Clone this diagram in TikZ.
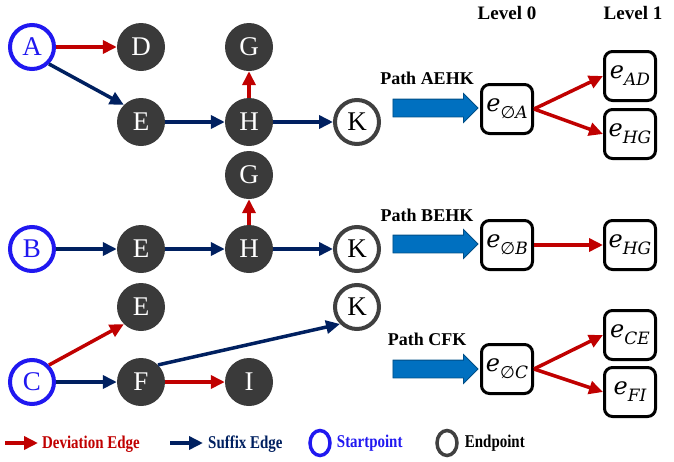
\documentclass[tikz,border=0pt]{standalone}
\usepackage{amsmath}
\usepackage{amssymb}
\usepackage[no-math]{fontspec}
\setmainfont{Liberation Serif}
\newfontfamily\boxfont{DejaVu Serif}
\newfontfamily\symfont{DejaVu Sans}
\usepackage{xcolor}
\usepackage{tikz}
\usetikzlibrary{arrows.meta,positioning,shapes.arrows,shapes.geometric}

\definecolor{devred}{RGB}{192,0,0}
\definecolor{sufnavy}{RGB}{0,32,96}
\definecolor{startblue}{RGB}{32,24,240}
\definecolor{nodegray}{RGB}{58,58,58}
\definecolor{endgray}{RGB}{64,64,64}
\definecolor{arrblue}{RGB}{0,112,192}

% edge label e with a subscript
\newcommand{\esub}[1]{{\itshape e}\raisebox{-7pt}{\fontsize{17}{17}\selectfont\itshape #1}}
\newcommand{\nil}{{\symfont\upshape ∅}}
\newcommand{\legtext}[1]{\scalebox{0.83}[1]{#1}}

\begin{document}
\begin{tikzpicture}[
  x=1pt, y=-1pt,
  vtx/.style={circle, fill=nodegray, text=white, minimum size=48pt, inner sep=0pt,
              font=\fontsize{27}{28}\selectfont},
  startv/.style={circle, draw=startblue, line width=4pt, text=startblue, fill=white,
                 minimum size=44pt, inner sep=0pt, font=\fontsize{27}{28}\selectfont},
  endv/.style={circle, draw=endgray, line width=4pt, text=black, fill=white,
               minimum size=44pt, inner sep=0pt, font=\fontsize{27}{28}\selectfont},
  ebox/.style={rectangle, draw=black, line width=3pt, rounded corners=8pt,
               minimum width=51pt, minimum height=49pt, inner sep=0pt,
               font=\boxfont\fontsize{24}{26}\selectfont},
  bigarrow/.style={single arrow, fill=arrblue, draw=arrblue!70!black, line width=0.8pt,
                   minimum height=85pt, inner xsep=0pt, inner ysep=8.5pt,
                   single arrow head extend=5.5pt},
  dev/.style={-{Triangle[length=14pt,width=13pt]}, line width=3.5pt, devred},
  suf/.style={-{Triangle[length=14pt,width=13pt]}, line width=3.5pt, sufnavy},
  lvl/.style={font=\fontsize{19}{20}\selectfont\bfseries},
  pathlbl/.style={font=\fontsize{18}{20}\selectfont\bfseries},
  leg/.style={font=\fontsize{18}{18}\selectfont\bfseries, anchor=west, inner sep=0pt},
  legmark/.style={ellipse, line width=3.5pt, minimum width=20pt, minimum height=25pt, inner sep=0pt}
]
  \useasboundingbox (0,0) rectangle (674,461);

  % path A
  \node[startv] (a)  at (32,47)   {A};
  \node[vtx]    (d)  at (141,47)  {D};
  \node[vtx]    (g1) at (249,47)  {G};
  \node[vtx]    (e1) at (141,122) {E};
  \node[vtx]    (h1) at (249,122) {H};
  \node[endv]   (k1) at (357,122) {K};

  % path B
  \node[vtx]    (g2) at (249,175) {G};
  \node[startv] (b)  at (32,249)  {B};
  \node[vtx]    (e2) at (141,249) {E};
  \node[vtx]    (h2) at (249,249) {H};
  \node[endv]   (k2) at (357,249) {K};

  % path C
  \node[vtx]    (e3) at (141,307) {E};
  \node[endv]   (k3) at (357,307) {K};
  \node[startv] (c)  at (32,382)  {C};
  \node[vtx]    (f)  at (141,382) {F};
  \node[vtx]    (i)  at (249,382) {I};

  \draw[dev] (a)     -- (d);
  \draw[suf] (a.-45) -- (e1.135);
  \draw[suf] (e1)    -- (h1);
  \draw[suf] (h1)    -- (k1);
  \draw[dev] (h1)    -- (g1);

  \draw[suf] (b)     -- (e2);
  \draw[suf] (e2)    -- (h2);
  \draw[suf] (h2)    -- (k2);
  \draw[dev] (h2)    -- (g2);

  \draw[dev] (c.45)  -- (e3.-135);
  \draw[suf] (c)     -- (f);
  \draw[dev] (f)     -- (i);
  \draw[suf] (f.45)  -- (k3.-135);

  % levels
  \node[lvl] (lv0) at (507,13) {Level 0};
  \node[lvl] (lv1) at (633,13) {Level 1};

  \node[bigarrow] (pa) at (431,108) {};
  \node[pathlbl] (la) at (427,78) {Path AEHK};
  \node[ebox] (ea0)  at (507,109) {\esub{\nil A}};
  \node[ebox] (ead)  at (630,76)  {\esub{AD}};
  \node[ebox] (ehg1) at (630,134) {\esub{HG}};
  \draw[dev] (ea0.east) -- (ead.west);
  \draw[dev] (ea0.east) -- (ehg1.west);

  \node[bigarrow] (pb) at (431,244) {};
  \node[pathlbl] (lb) at (427,215) {Path BEHK};
  \node[ebox] (eb0)  at (507,245) {\esub{\nil B}};
  \node[ebox] (ehg2) at (630,245) {\esub{HG}};
  \draw[dev] (eb0) -- (ehg2);

  \node[bigarrow] (pc) at (431,369) {};
  \node[pathlbl] (lc) at (427,339) {Path CFK};
  \node[ebox] (ec0) at (507,369) {\esub{\nil C}};
  \node[ebox] (ece) at (630,335) {\esub{CE}};
  \node[ebox] (efi) at (630,392) {\esub{FI}};
  \draw[dev] (ec0.east) -- (ece.west);
  \draw[dev] (ec0.east) -- (efi.west);

  % legend
  \coordinate (dv1) at (5,443);
  \coordinate (dv2) at (38,443);
  \draw[dev] (dv1) -- (dv2);
  \node[leg, text=devred] (ldev) at (42,444) {\legtext{Deviation Edge}};
  \coordinate (sf1) at (170,443);
  \coordinate (sf2) at (203,443);
  \draw[suf] (sf1) -- (sf2);
  \node[leg, text=sufnavy] (lsuf) at (208,444) {\legtext{Suffix Edge}};
  \node[legmark, draw=startblue] (lst) at (320,443) {};
  \node[leg, text=startblue, right=5pt of lst] (lstt) {\legtext{Startpoint}};
  \node[legmark, draw=endgray] (len) at (447,443) {};
  \node[leg, text=black, right=6pt of len] (lent) {\legtext{Endpoint}};
\end{tikzpicture}
\end{document}
